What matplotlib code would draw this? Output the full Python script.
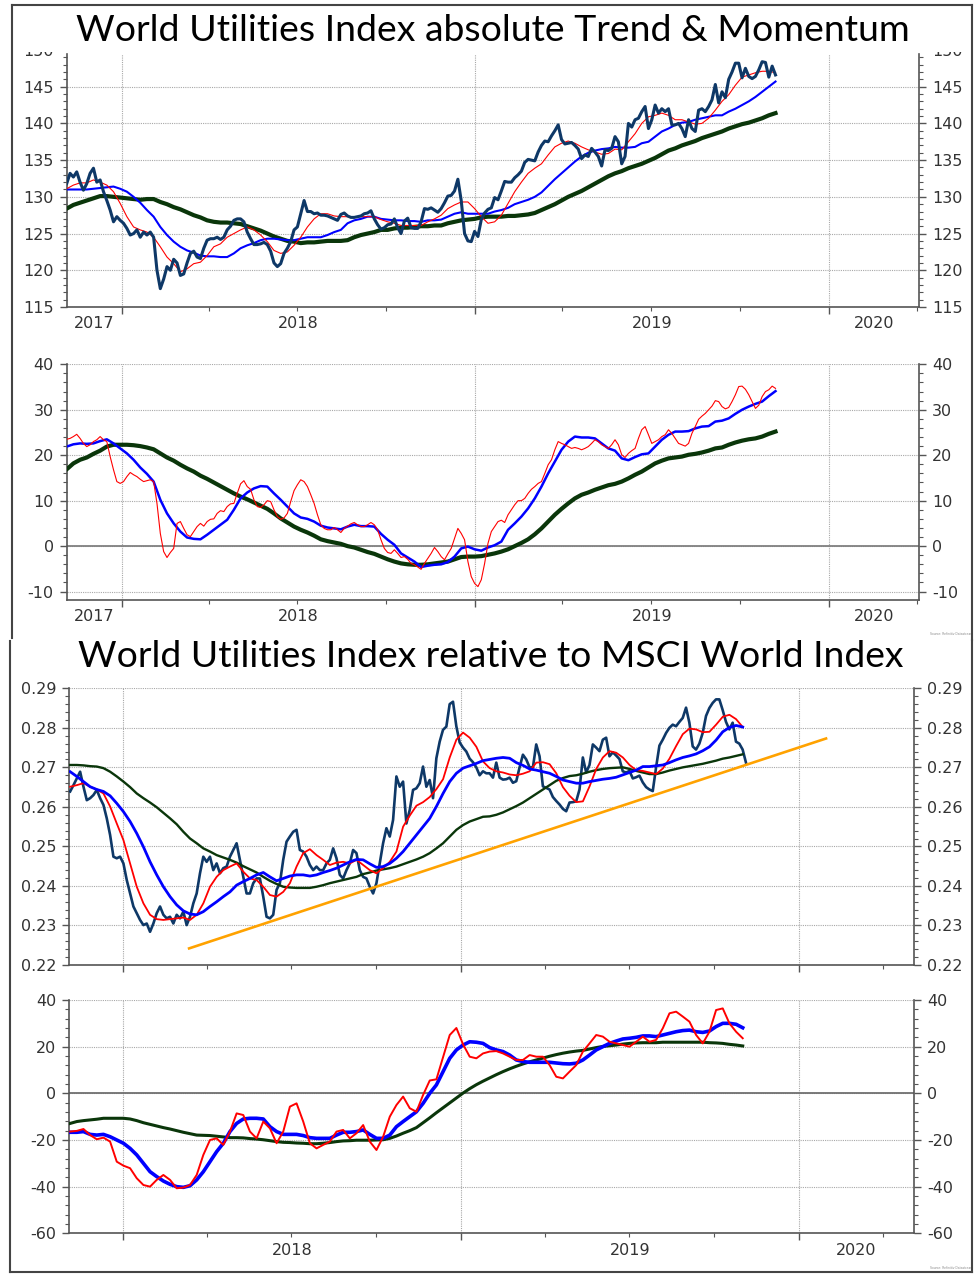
import numpy as np
import pandas as pd
import matplotlib
matplotlib.use('Agg')
import matplotlib.pyplot as plt
import matplotlib.dates as mdates
from matplotlib.ticker import MultipleLocator, NullFormatter, FormatStrFormatter
from matplotlib.lines import Line2D
from matplotlib.patches import Rectangle

plt.rcParams['axes.unicode_minus'] = False
plt.rcParams['font.family'] = ['DejaVu Sans']

W, H = 977, 1274

# ------------------------------------------------------------------ data
# absolute index (top block)
abs_start, abs_end = '2017-11-05', '2019-11-07'
abs_price = [
    131.8, 133.2, 132.7, 133.4, 132.0, 130.9, 131.8, 133.2, 133.9, 132.0,
    132.3, 130.7, 129.5, 128.2, 126.6, 127.3, 126.8, 126.4, 125.7, 124.8,
    125.0, 125.5, 124.5, 125.2, 124.8, 125.2, 124.5, 120.0, 117.5, 118.8,
    120.5, 120.0, 121.5, 121.0, 119.3, 119.5, 121.0, 122.3, 122.6, 121.8,
    121.6, 123.0, 124.1, 124.3, 124.3, 124.5, 124.2, 124.5, 125.5, 126.0,
    126.8, 127.0, 127.0, 126.6, 125.2, 124.3, 123.5, 123.5, 123.6, 123.8,
    123.5, 122.6, 121.0, 120.5, 120.9, 122.3, 123.0, 123.9, 125.5, 125.9,
    127.7, 129.5, 128.0, 128.0, 127.7, 127.8, 127.5, 127.5, 127.4, 127.2,
    127.0, 126.8, 127.6, 127.8, 127.4, 127.2, 127.2, 127.3, 127.4, 127.7,
    127.8, 128.1, 127.0, 126.2, 125.6, 125.8, 126.2, 126.3, 127.0, 125.8,
    125.0, 126.7, 127.1, 125.8, 125.7, 125.7, 126.6, 128.4, 128.3, 128.5,
    128.2, 127.9, 128.4, 129.2, 130.1, 130.2, 130.8, 132.4, 129.5, 125.0,
    124.0, 123.9, 125.3, 124.6, 126.9, 127.8, 128.3, 128.5, 129.9, 129.6,
    130.8, 132.1, 132.0, 132.0, 132.6, 133.0, 133.5, 134.7, 135.1, 135.0,
    134.9, 136.1, 137.0, 137.6, 137.5, 138.3, 139.0, 139.8, 137.8, 137.2,
    137.3, 137.4, 137.0, 136.5, 135.2, 135.7, 135.5, 136.6, 136.1, 135.5,
    134.2, 136.4, 136.3, 136.6, 138.2, 137.5, 134.5, 135.5, 140.0, 139.5,
    140.5, 140.7, 141.6, 142.3, 139.3, 140.5, 142.5, 141.4, 142.0, 141.6,
    142.0, 139.8, 139.8, 140.0, 139.3, 138.2, 140.5, 139.3, 138.9, 141.8,
    142.0, 141.6, 142.3, 143.2, 145.3, 142.8, 144.3, 143.5, 146.0, 147.0,
    148.2, 148.2, 146.2, 147.5, 146.4, 146.1, 146.4, 147.3, 148.4, 148.3,
    146.3, 147.8, 146.6,
]
abs_ma_fast = [
    131.1, 131.6, 131.9, 131.9, 132.3, 132.0, 131.6, 130.7, 129.1, 127.3,
    125.9, 125.5, 125.2, 124.5, 123.2, 121.8, 120.9, 119.8, 120.2, 120.9,
    121.1, 122.0, 123.2, 123.6, 124.5, 125.0, 125.5, 125.9, 125.5, 124.8,
    123.9, 122.7, 122.3, 122.5, 123.4, 124.5, 125.9, 127.0, 127.7, 127.7,
    127.4, 127.3, 127.3, 127.3, 127.3, 127.3, 127.3, 126.9, 126.6, 126.4,
    126.1, 126.1, 126.1, 126.1, 126.6, 127.0, 127.5, 128.4, 128.9, 129.3,
    129.3, 128.4, 127.3, 126.4, 126.6, 127.5, 129.1, 130.7, 132.0, 133.2,
    133.9, 134.5, 135.7, 136.8, 137.3, 137.6, 137.3, 136.8, 136.4, 136.1,
    135.8, 135.9, 136.5, 136.4, 137.5, 138.6, 140.0, 140.9, 141.1, 141.4,
    141.1, 140.5, 140.5, 140.2, 139.9, 140.0, 140.7, 141.8, 143.0, 143.9,
    145.2, 146.3, 146.6, 146.9, 147.1, 147.1, 146.9,
]
abs_ma_mid = [
    131.0, 131.0, 131.0, 131.0, 131.1, 131.2, 131.3, 131.4, 131.1, 130.7,
    130.0, 129.2, 128.2, 127.3, 125.9, 124.8, 123.9, 123.2, 122.7, 122.4,
    122.0, 121.9, 121.9, 121.8, 121.8, 122.3, 123.0, 123.4, 123.7, 124.1,
    124.3, 124.3, 124.2, 124.1, 124.1, 124.3, 124.5, 124.5, 124.5, 124.8,
    125.2, 125.5, 126.4, 126.8, 127.0, 127.3, 127.3, 127.0, 126.9, 126.8,
    126.8, 126.7, 126.7, 126.6, 126.8, 126.8, 126.9, 127.3, 127.7, 127.9,
    127.7, 127.7, 127.7, 127.7, 128.0, 128.2, 128.5, 129.0, 129.3, 129.6,
    130.0, 130.6, 131.5, 132.4, 133.2, 134.0, 134.8, 135.5, 136.0, 136.3,
    136.5, 136.6, 136.8, 136.7, 136.7, 136.8, 137.3, 137.5, 138.2, 138.9,
    139.3, 139.8, 140.1, 140.2, 140.5, 140.7, 140.9, 141.1, 141.1, 141.6,
    142.0, 142.5, 143.0, 143.6, 144.3, 145.0, 145.7,
]
abs_ma_slow = [
    128.4, 128.9, 129.2, 129.5, 129.8, 130.1, 130.1, 130.0, 129.9, 129.8,
    129.7, 129.6, 129.7, 129.7, 129.3, 129.0, 128.6, 128.3, 127.9, 127.5,
    127.2, 126.8, 126.6, 126.5, 126.5, 126.4, 126.3, 126.0, 125.7, 125.4,
    125.0, 124.6, 124.3, 124.0, 123.9, 123.7, 123.8, 123.8, 123.9, 124.0,
    124.0, 124.0, 124.1, 124.5, 124.8, 125.0, 125.2, 125.5, 125.5, 125.7,
    125.8, 125.8, 125.9, 126.0, 126.0, 126.1, 126.1, 126.4, 126.6, 126.8,
    126.9, 127.0, 127.2, 127.3, 127.3, 127.3, 127.4, 127.4, 127.5, 127.6,
    127.8, 128.2, 128.6, 129.0, 129.5, 130.0, 130.4, 130.8, 131.3, 131.8,
    132.3, 132.8, 133.2, 133.5, 133.9, 134.2, 134.5, 134.9, 135.3, 135.8,
    136.3, 136.6, 137.0, 137.3, 137.6, 138.0, 138.3, 138.6, 138.9, 139.3,
    139.6, 139.9, 140.1, 140.4, 140.7, 141.1, 141.4,
]
abs_mom_fast = [
    23.5, 23.7, 24.1, 24.6, 23.7, 22.6, 21.9, 22.3, 23.0, 23.4,
    24.1, 23.4, 23.0, 19.7, 16.8, 14.2, 13.8, 14.2, 15.3, 16.2,
    15.7, 15.3, 14.7, 14.2, 14.4, 14.6, 14.2, 9.4, 2.8, -1.2,
    -2.5, -1.4, -0.5, 5.0, 5.4, 3.9, 2.5, 2.1, 3.2, 4.3,
    5.0, 4.4, 5.4, 5.9, 6.0, 7.2, 7.8, 7.6, 8.7, 9.3,
    9.4, 11.6, 13.7, 14.4, 13.1, 12.5, 10.2, 8.7, 8.5, 9.1,
    10.0, 9.8, 8.0, 6.5, 5.9, 6.2, 7.2, 9.8, 12.2, 13.5,
    14.6, 14.2, 13.1, 11.3, 9.4, 6.9, 4.7, 3.9, 3.6, 3.6,
    4.1, 3.6, 3.0, 3.9, 4.4, 4.9, 5.2, 4.7, 4.3, 4.3,
    4.7, 5.2, 4.7, 3.6, 1.4, -0.5, -1.4, -1.6, -0.8, -1.6,
    -2.5, -2.3, -2.9, -3.8, -4.1, -4.6, -5.1, -3.8, -2.7, -1.6,
    -0.3, -1.2, -2.3, -3.0, -1.7, -0.5, 1.7, 3.9, 2.8, 1.4,
    -3.4, -6.7, -8.2, -8.9, -7.4, -3.8, 0.6, 3.2, 4.3, 5.4,
    5.7, 5.2, 6.9, 8.0, 9.1, 10.0, 10.0, 10.5, 11.6, 12.5,
    13.1, 13.8, 14.2, 16.0, 17.9, 19.0, 21.2, 23.0, 22.6, 22.3,
    21.9, 21.5, 21.7, 21.5, 21.2, 21.5, 21.9, 22.6, 23.4, 23.0,
    22.3, 21.9, 21.5, 22.3, 23.4, 22.3, 20.1, 19.5, 20.4, 21.0,
    21.5, 23.7, 25.6, 26.3, 24.5, 22.6, 23.0, 23.4, 24.1, 24.5,
    25.6, 24.8, 23.7, 22.6, 22.3, 22.0, 22.6, 24.8, 26.3, 27.9,
    28.6, 29.2, 30.0, 30.8, 32.0, 31.8, 30.7, 30.2, 30.5, 31.8,
    33.3, 35.1, 35.2, 34.5, 33.3, 31.8, 30.3, 31.0, 32.9, 34.0,
    34.4, 35.2, 34.7,
]
abs_mom_mid = [
    21.9, 22.4, 22.6, 22.5, 22.6, 23.1, 23.5, 22.6, 21.5, 20.4,
    19.0, 17.3, 15.9, 14.2, 10.2, 7.2, 5.0, 3.2, 1.9, 1.6,
    1.5, 2.5, 3.6, 4.7, 5.8, 8.0, 10.5, 11.8, 12.7, 13.2,
    13.1, 11.6, 10.2, 8.7, 7.2, 6.3, 6.0, 5.4, 4.5, 4.1,
    3.9, 3.7, 4.3, 4.7, 4.4, 4.4, 4.3, 2.7, 1.4, 0.3,
    -1.6, -2.5, -3.4, -4.6, -4.3, -4.1, -4.0, -3.5, -2.3, -0.5,
    -0.1, -0.7, -1.0, -0.3, 0.2, 1.0, 3.6, 5.0, 6.5, 8.3,
    10.5, 13.1, 16.0, 18.6, 21.2, 23.0, 24.1, 23.9, 23.9, 23.7,
    22.6, 21.5, 21.0, 19.3, 18.9, 19.6, 20.2, 20.4, 21.9, 23.4,
    24.5, 25.2, 25.2, 25.3, 25.9, 26.3, 26.4, 27.4, 27.6, 28.1,
    29.1, 30.0, 30.7, 31.3, 31.8, 33.0, 34.1,
]
abs_mom_slow = [
    16.9, 18.2, 19.0, 19.5, 20.3, 21.0, 21.9, 22.3, 22.3, 22.3,
    22.2, 22.0, 21.7, 21.3, 20.4, 19.5, 18.8, 17.9, 17.1, 16.4,
    15.5, 14.8, 14.0, 13.2, 12.4, 11.6, 10.9, 10.3, 9.6, 8.9,
    8.2, 7.2, 6.1, 5.2, 4.3, 3.6, 3.0, 2.3, 1.5, 1.1,
    0.8, 0.5, 0.0, -0.3, -0.8, -1.3, -1.7, -2.3, -2.9, -3.4,
    -3.8, -4.0, -4.1, -4.1, -4.0, -3.8, -3.6, -3.4, -2.9, -2.4,
    -2.3, -2.3, -2.2, -1.9, -1.6, -1.2, -0.7, 0.0, 0.7, 1.5,
    2.6, 3.9, 5.4, 6.9, 8.2, 9.4, 10.5, 11.3, 11.8, 12.4,
    12.9, 13.4, 13.7, 14.2, 14.9, 15.7, 16.4, 17.3, 18.2, 18.8,
    19.3, 19.5, 19.7, 20.1, 20.3, 20.6, 21.0, 21.5, 21.7, 22.3,
    22.8, 23.2, 23.5, 23.7, 24.1, 24.7, 25.2,
]

# relative to MSCI World (bottom block)
rel_start, rel_end = '2017-11-04 12:00', '2019-11-04 12:00'
rel_ma_end = '2019-11-01'
rel_ratio = [
    0.2639, 0.2655, 0.2672, 0.2689, 0.2651, 0.2617, 0.2622, 0.2630, 0.2643, 0.2622,
    0.2605, 0.2571, 0.2529, 0.2474, 0.2470, 0.2474, 0.2457, 0.2415, 0.2381, 0.2348,
    0.2331, 0.2314, 0.2301, 0.2305, 0.2284, 0.2305, 0.2331, 0.2348, 0.2327, 0.2318,
    0.2322, 0.2305, 0.2327, 0.2318, 0.2335, 0.2301, 0.2322, 0.2356, 0.2381, 0.2432,
    0.2474, 0.2461, 0.2474, 0.2440, 0.2457, 0.2432, 0.2445, 0.2449, 0.2474, 0.2491,
    0.2508, 0.2466, 0.2423, 0.2381, 0.2381, 0.2407, 0.2419, 0.2419, 0.2373, 0.2322,
    0.2318, 0.2327, 0.2390, 0.2407, 0.2466, 0.2512, 0.2525, 0.2537, 0.2542, 0.2491,
    0.2487, 0.2474, 0.2453, 0.2440, 0.2449, 0.2440, 0.2440, 0.2457, 0.2466, 0.2495,
    0.2470, 0.2428, 0.2419, 0.2440, 0.2457, 0.2491, 0.2483, 0.2440, 0.2423, 0.2419,
    0.2398, 0.2381, 0.2407, 0.2457, 0.2508, 0.2546, 0.2525, 0.2567, 0.2677, 0.2651,
    0.2664, 0.2558, 0.2592, 0.2643, 0.2647, 0.2660, 0.2702, 0.2651, 0.2668, 0.2622,
    0.2723, 0.2765, 0.2795, 0.2803, 0.2860, 0.2866, 0.2804, 0.2763, 0.2750, 0.2740,
    0.2722, 0.2713, 0.2700, 0.2680, 0.2690, 0.2685, 0.2685, 0.2674, 0.2712, 0.2674,
    0.2669, 0.2670, 0.2674, 0.2661, 0.2665, 0.2700, 0.2732, 0.2720, 0.2700, 0.2700,
    0.2758, 0.2728, 0.2652, 0.2648, 0.2644, 0.2625, 0.2615, 0.2606, 0.2595, 0.2589,
    0.2611, 0.2612, 0.2614, 0.2644, 0.2725, 0.2687, 0.2706, 0.2758, 0.2750, 0.2741,
    0.2770, 0.2775, 0.2728, 0.2738, 0.2730, 0.2721, 0.2690, 0.2687, 0.2691, 0.2672,
    0.2675, 0.2679, 0.2662, 0.2650, 0.2644, 0.2640, 0.2700, 0.2755, 0.2770, 0.2787,
    0.2800, 0.2808, 0.2804, 0.2815, 0.2825, 0.2851, 0.2813, 0.2753, 0.2745, 0.2760,
    0.2787, 0.2830, 0.2850, 0.2863, 0.2872, 0.2872, 0.2845, 0.2815, 0.2796, 0.2813,
    0.2765, 0.2760, 0.2745, 0.2712,
]
rel_ma_fast = [
    0.2651, 0.2655, 0.2660, 0.2651, 0.2644, 0.2634, 0.2601, 0.2558, 0.2516, 0.2457,
    0.2398, 0.2356, 0.2327, 0.2316, 0.2314, 0.2316, 0.2318, 0.2320, 0.2314, 0.2327,
    0.2356, 0.2398, 0.2423, 0.2440, 0.2449, 0.2457, 0.2436, 0.2419, 0.2415, 0.2398,
    0.2377, 0.2373, 0.2385, 0.2407, 0.2449, 0.2483, 0.2493, 0.2478, 0.2466, 0.2453,
    0.2459, 0.2461, 0.2457, 0.2466, 0.2453, 0.2440, 0.2432, 0.2445, 0.2461, 0.2487,
    0.2550, 0.2578, 0.2603, 0.2612, 0.2625, 0.2645, 0.2670, 0.2725, 0.2770, 0.2788,
    0.2775, 0.2752, 0.2715, 0.2698, 0.2690, 0.2687, 0.2682, 0.2680, 0.2684, 0.2690,
    0.2712, 0.2713, 0.2708, 0.2685, 0.2650, 0.2628, 0.2612, 0.2614, 0.2652, 0.2696,
    0.2725, 0.2741, 0.2737, 0.2725, 0.2706, 0.2693, 0.2691, 0.2687, 0.2683, 0.2697,
    0.2722, 0.2754, 0.2784, 0.2798, 0.2796, 0.2789, 0.2790, 0.2808, 0.2828, 0.2833,
    0.2822, 0.2802,
]
rel_ma_mid = [
    0.2689, 0.2677, 0.2664, 0.2651, 0.2644, 0.2639, 0.2628, 0.2609, 0.2588, 0.2563,
    0.2533, 0.2499, 0.2461, 0.2428, 0.2398, 0.2373, 0.2352, 0.2337, 0.2329, 0.2327,
    0.2335, 0.2348, 0.2360, 0.2373, 0.2385, 0.2402, 0.2411, 0.2419, 0.2428, 0.2434,
    0.2423, 0.2413, 0.2419, 0.2425, 0.2428, 0.2428, 0.2425, 0.2428, 0.2434, 0.2439,
    0.2445, 0.2453, 0.2461, 0.2467, 0.2466, 0.2456, 0.2447, 0.2449, 0.2457, 0.2470,
    0.2487, 0.2508, 0.2529, 0.2550, 0.2571, 0.2601, 0.2634, 0.2664, 0.2685, 0.2698,
    0.2704, 0.2710, 0.2717, 0.2720, 0.2723, 0.2725, 0.2723, 0.2712, 0.2705, 0.2696,
    0.2693, 0.2689, 0.2685, 0.2677, 0.2668, 0.2664, 0.2660, 0.2660, 0.2664, 0.2667,
    0.2670, 0.2672, 0.2675, 0.2681, 0.2687, 0.2693, 0.2702, 0.2702, 0.2704, 0.2706,
    0.2712, 0.2719, 0.2725, 0.2729, 0.2734, 0.2742, 0.2752, 0.2769, 0.2790, 0.2801,
    0.2806, 0.2802,
]
rel_ma_slow = [
    0.2706, 0.2706, 0.2705, 0.2703, 0.2702, 0.2698, 0.2689, 0.2677, 0.2664, 0.2650,
    0.2634, 0.2622, 0.2611, 0.2599, 0.2585, 0.2571, 0.2556, 0.2537, 0.2520, 0.2508,
    0.2495, 0.2487, 0.2478, 0.2472, 0.2466, 0.2459, 0.2450, 0.2442, 0.2434, 0.2423,
    0.2413, 0.2405, 0.2398, 0.2396, 0.2395, 0.2395, 0.2395, 0.2398, 0.2402, 0.2407,
    0.2411, 0.2415, 0.2419, 0.2423, 0.2430, 0.2434, 0.2439, 0.2442, 0.2445, 0.2449,
    0.2455, 0.2461, 0.2467, 0.2474, 0.2483, 0.2495, 0.2508, 0.2525, 0.2542, 0.2554,
    0.2563, 0.2569, 0.2575, 0.2576, 0.2580, 0.2586, 0.2594, 0.2602, 0.2611, 0.2622,
    0.2633, 0.2644, 0.2655, 0.2666, 0.2673, 0.2678, 0.2680, 0.2684, 0.2689, 0.2693,
    0.2696, 0.2698, 0.2699, 0.2700, 0.2696, 0.2691, 0.2687, 0.2683, 0.2683, 0.2687,
    0.2692, 0.2696, 0.2700, 0.2703, 0.2706, 0.2709, 0.2713, 0.2717, 0.2722, 0.2725,
    0.2729, 0.2733,
]
rel_mom_fast = [
    -16.4, -16.1, -15.3, -17.9, -19.7, -19.0, -20.7, -29.3, -31.0, -32.1,
    -36.4, -39.3, -40.0, -37.1, -35.0, -37.1, -40.7, -40.4, -39.3, -35.0,
    -26.4, -20.0, -19.3, -22.1, -16.4, -8.6, -9.3, -16.4, -19.3, -12.1,
    -15.0, -21.4, -16.4, -5.7, -4.3, -12.1, -21.4, -23.6, -22.1, -20.7,
    -16.4, -15.7, -19.3, -17.1, -13.6, -20.7, -24.3, -18.6, -10.0, -5.0,
    -1.4, -6.4, -7.9, -0.7, 5.5, 6.0, 15.5, 25.0, 28.0, 21.0,
    15.7, 15.0, 17.1, 17.9, 18.1, 17.1, 15.7, 14.3, 14.3, 16.4,
    15.7, 15.7, 12.1, 7.1, 6.4, 9.3, 12.1, 17.9, 21.4, 25.0,
    24.3, 22.1, 21.4, 20.7, 20.0, 22.1, 24.3, 22.1, 22.9, 27.9,
    34.3, 35.0, 32.9, 30.7, 25.0, 21.4, 26.4, 35.7, 36.4, 30.0,
    26.4, 23.6,
]
rel_mom_mid = [
    -16.7, -16.7, -16.4, -17.6, -17.9, -17.6, -18.6, -20.0, -21.4, -23.6,
    -26.4, -30.0, -33.6, -35.7, -37.6, -39.0, -40.0, -40.3, -39.6, -37.1,
    -33.6, -29.3, -25.0, -21.4, -16.4, -12.9, -11.0, -10.7, -10.7, -11.0,
    -14.3, -16.4, -17.6, -17.6, -17.6, -18.1, -19.0, -19.3, -19.3, -19.3,
    -17.9, -16.7, -16.7, -16.4, -15.7, -17.6, -19.3, -19.3, -17.9, -14.3,
    -12.1, -10.0, -7.9, -4.3, 0.0, 3.6, 9.3, 15.0, 18.6, 20.7,
    22.1, 21.9, 21.4, 19.6, 18.6, 17.9, 16.4, 14.3, 13.6, 13.3,
    13.3, 13.3, 13.3, 13.0, 12.7, 12.6, 12.9, 14.3, 16.4, 18.6,
    20.0, 21.4, 22.4, 23.3, 23.6, 24.0, 24.6, 24.6, 24.3, 25.0,
    25.7, 26.4, 26.9, 27.1, 26.4, 26.1, 26.7, 28.6, 30.0, 30.0,
    29.6, 28.1,
]
rel_mom_slow = [
    -12.9, -12.1, -11.7, -11.4, -11.1, -10.7, -10.7, -10.7, -10.7, -11.0,
    -11.7, -12.6, -13.3, -14.0, -14.7, -15.3, -16.0, -16.7, -17.3, -17.9,
    -18.0, -18.1, -18.4, -18.7, -19.0, -19.0, -19.1, -19.4, -19.6, -19.9,
    -20.3, -20.7, -21.0, -21.1, -21.3, -21.4, -21.6, -21.6, -21.4, -21.1,
    -20.7, -20.4, -20.3, -20.1, -20.1, -20.1, -20.0, -19.9, -19.3, -18.3,
    -17.1, -16.0, -14.7, -12.6, -10.5, -8.3, -6.2, -4.1, -2.0, 0.1,
    2.0, 3.7, 5.2, 6.6, 8.0, 9.3, 10.5, 11.6, 12.6, 13.5,
    14.3, 15.1, 15.9, 16.6, 17.2, 17.7, 18.1, 18.4, 19.0, 19.6,
    20.1, 20.4, 20.7, 21.1, 21.4, 21.6, 21.7, 21.7, 21.7, 21.9,
    21.9, 21.9, 21.9, 21.9, 21.9, 21.9, 21.7, 21.6, 21.4, 21.0,
    20.7, 20.3,
]
trend_dates = ['2018-03-13', '2020-01-30']
trend_values = [0.2242, 0.2773]

top_title = 'World Utilities Index absolute Trend & Momentum'
bottom_title = 'World Utilities Index relative to MSCI World Index'
top_years = [2017, 2018, 2019, 2020]
bottom_years = [2018, 2019, 2020]

# ------------------------------------------------------------------ style
NAVY = '#0e3867'
RED = '#ff0000'
BLUE = '#0000ff'
GREEN = '#0a360a'
ORANGE = '#ffa200'
SPINE = '#555555'
TXT = '#333333'
GRID = '#a8a8a8'
TICK_FS = 11.5

fig = plt.figure(figsize=(W / 100, H / 100), dpi=100)
fig.patch.set_facecolor('white')


def rect(x0, y0, x1, y1):
    return [x0 / W, 1 - y1 / H, (x1 - x0) / W, (y1 - y0) / H]


def dates(start, end, n):
    return pd.date_range(pd.Timestamp(start), pd.Timestamp(end), periods=n)


def style(ax, xlim, ylim, major, minor, fmt, years):
    x0, x1 = pd.Timestamp(xlim[0]), pd.Timestamp(xlim[1])
    ax.set_xlim(x0, x1)
    ax.set_ylim(*ylim)
    ax.yaxis.set_major_locator(MultipleLocator(major))
    ax.yaxis.set_minor_locator(MultipleLocator(minor))
    ax.yaxis.set_major_formatter(FormatStrFormatter(fmt))
    ax.xaxis.set_major_locator(mdates.YearLocator())
    ax.xaxis.set_minor_locator(mdates.MonthLocator(bymonth=[4, 7, 10]))
    ax.xaxis.set_major_formatter(NullFormatter())
    ax.xaxis.set_minor_formatter(NullFormatter())
    ax.tick_params(axis='y', which='both', left=True, right=True,
                   labelleft=True, labelright=True, direction='out',
                   color=SPINE, labelcolor=TXT, labelsize=TICK_FS, pad=4.3)
    ax.tick_params(axis='x', which='both', direction='out', color=SPINE)
    ax.tick_params(which='major', length=5, width=1.0)
    ax.tick_params(which='minor', length=3, width=0.8)
    for s in ['left', 'right', 'bottom']:
        ax.spines[s].set_color(SPINE)
        ax.spines[s].set_linewidth(1.2)
    ax.spines['top'].set_visible(False)
    ax.set_axisbelow(True)
    ax.grid(True, which='major', color=GRID, linestyle=(0, (1, 1)), linewidth=0.8)
    for yr in years:
        a = max(pd.Timestamp(f'{yr}-01-01'), x0)
        b = min(pd.Timestamp(f'{yr + 1}-01-01'), x1)
        mid = a + (b - a) / 2
        ax.annotate(str(yr), xy=(mdates.date2num(mid), 0),
                    xycoords=('data', 'axes fraction'), xytext=(0, -15.3),
                    textcoords='offset points', ha='center', va='baseline',
                    fontsize=TICK_FS, color=TXT)


top_xlim = ('2017-11-05', '2020-04-03 12:00')
bot_xlim = ('2017-11-03 14:00', '2020-05-04')

# ---- top block: absolute price
ax1 = fig.add_axes(rect(66.7, 54, 919.3, 307))
ax1.plot(dates(abs_start, abs_end, len(abs_ma_slow)), abs_ma_slow, color=GREEN, lw=3.0, zorder=3)
ax1.plot(dates(abs_start, abs_end, len(abs_ma_mid)), abs_ma_mid, color=BLUE, lw=1.5, zorder=4)
ax1.plot(dates(abs_start, abs_end, len(abs_ma_fast)), abs_ma_fast, color=RED, lw=0.8, zorder=5)
ax1.plot(dates(abs_start, abs_end, len(abs_price)), abs_price, color=NAVY, lw=2.2, zorder=6)
style(ax1, top_xlim, (115, 149.45), 5, 1, '%d', top_years)
# the 150 label sits above the plot area and is mostly hidden behind the title band
for xa, dx, ha in [(0, -9.3, 'right'), (1, 9.3, 'left')]:
    ax1.annotate('150', xy=(xa, 150), xycoords=('axes fraction', 'data'),
                 xytext=(dx, 0), textcoords='offset points', ha=ha,
                 va='center_baseline', fontsize=TICK_FS, color=TXT,
                 annotation_clip=False)

# ---- top block: absolute momentum
ax2 = fig.add_axes(rect(66.7, 364.3, 919.3, 600))
ax2.axhline(0, color='#808080', lw=1.3, zorder=2)
ax2.plot(dates(abs_start, abs_end, len(abs_mom_slow)), abs_mom_slow, color=GREEN, lw=3.0, zorder=3)
ax2.plot(dates(abs_start, abs_end, len(abs_mom_mid)), abs_mom_mid, color=BLUE, lw=1.8, zorder=4)
ax2.plot(dates(abs_start, abs_end, len(abs_mom_fast)), abs_mom_fast, color=RED, lw=0.8, zorder=5)
style(ax2, top_xlim, (-11.85, 40), 10, 2, '%d', top_years)

# ---- bottom block: relative ratio
ax3 = fig.add_axes(rect(69.3, 688.3, 914, 965))
ax3.plot(dates(rel_start, rel_end, len(rel_ratio)), rel_ratio, color=NAVY, lw=1.9, zorder=3)
ax3.plot(dates(rel_start, rel_ma_end, len(rel_ma_slow)), rel_ma_slow, color=GREEN, lw=1.7, zorder=4)
ax3.plot(dates(rel_start, rel_ma_end, len(rel_ma_fast)), rel_ma_fast, color=RED, lw=1.3, zorder=5)
ax3.plot(dates(rel_start, rel_ma_end, len(rel_ma_mid)), rel_ma_mid, color=BLUE, lw=2.0, zorder=6)
ax3.plot(pd.to_datetime(trend_dates), trend_values, color=ORANGE, lw=1.9, zorder=7)
style(ax3, bot_xlim, (0.22, 0.29), 0.01, 0.002, '%.2f', [])

# ---- bottom block: relative momentum
ax4 = fig.add_axes(rect(69.3, 1000, 914, 1233.3))
ax4.axhline(0, color='#707070', lw=1.3, zorder=2)
ax4.plot(dates(rel_start, rel_ma_end, len(rel_mom_slow)), rel_mom_slow, color=GREEN, lw=2.2, zorder=3)
ax4.plot(dates(rel_start, rel_ma_end, len(rel_mom_mid)), rel_mom_mid, color=BLUE, lw=2.6, zorder=4)
ax4.plot(dates(rel_start, rel_ma_end, len(rel_mom_fast)), rel_mom_fast, color=RED, lw=1.4, zorder=5)
style(ax4, bot_xlim, (-60, 40), 20, 4, '%d', bottom_years)

# ---- white band under the top title (hides the upper part of the 150 labels)
fig.add_artist(Rectangle((14 / W, 1 - 51.5 / H), 956 / W, 9 / H,
                         transform=fig.transFigure, facecolor='white',
                         edgecolor='none', zorder=5))

# ---- frames
def fig_line(x0, y0, x1, y1):
    fig.add_artist(Line2D([x0 / W, x1 / W], [1 - y0 / H, 1 - y1 / H],
                          transform=fig.transFigure, color='#444444', lw=1.5,
                          zorder=6))

fig_line(12, 5, 972, 5)
fig_line(12, 5, 12, 638)
fig_line(972, 5, 972, 640)
fig_line(10, 641, 10, 1272)
fig_line(10, 1272, 972, 1272)
fig_line(972, 640, 972, 1272)

# ---- titles, fitted to the reference width
renderer = fig.canvas.get_renderer()


def title(txt, cx, base, width):
    t = fig.text(cx / W, 1 - base / H, txt, ha='center', va='baseline',
                 fontsize=28, color='black', family=['Lato', 'DejaVu Sans'],
                 zorder=7)
    w = t.get_window_extent(renderer).width
    t.set_fontsize(28 * width / w)


title(top_title, 492.5, 40.7, 835)
title(bottom_title, 490.5, 667.3, 825)

fig.text(952 / W, 1 - 635 / H, 'Source: Refinitiv Datastream', fontsize=2.2,
         ha='center', color='#888888')
fig.text(952 / W, 1 - 1269 / H, 'Source: Refinitiv Datastream', fontsize=2.2,
         ha='center', color='#888888')

fig.savefig('out.png', dpi=100)
